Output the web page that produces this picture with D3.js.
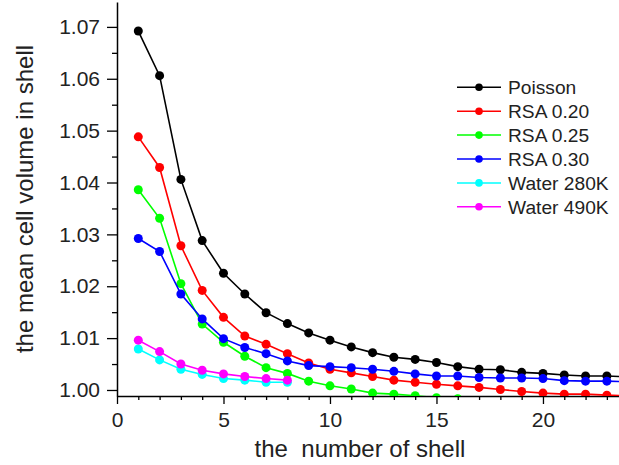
<!DOCTYPE html>
<html><head><meta charset="utf-8">
<script src="https://cdn.jsdelivr.net/npm/d3@7"></script>
<style>
html,body{margin:0;padding:0;background:#fff;}
text{font-family:"Liberation Sans",Arial,sans-serif;fill:#222;}
</style></head>
<body><div id="chart"></div>
<script>
const shells = d3.range(1, 25);
const poisson = [1.0692,1.0606,1.0406,1.0288,1.0225,1.0185,1.0149,1.0128,1.0110,1.0096,1.0083,1.0072,1.0063,1.0059,1.0053,1.0045,1.0040,1.0039,1.0034,1.0032,1.0029,1.0027,1.0027,1.0025];
const rsa020 = [1.0488,1.0429,1.0278,1.0192,1.0140,1.0104,1.0088,1.0070,1.0052,1.0040,1.0033,1.0026,1.0019,1.0015,1.0011,1.0008,1.0005,1.0001,0.9997,0.9994,0.9992,0.9992,0.9990,0.9989];
const rsa025 = [1.0386,1.0331,1.0205,1.0127,1.0092,1.0065,1.0043,1.0032,1.0017,1.0008,1.0002,0.9994,0.9992,0.9989,0.9985,0.9983];
const rsa030 = [1.0292,1.0267,1.0185,1.0137,1.0099,1.0082,1.0070,1.0056,1.0047,1.0045,1.0043,1.0040,1.0036,1.0031,1.0027,1.0027,1.0024,1.0023,1.0023,1.0022,1.0018,1.0017,1.0017,1.0016];
const water280 = [1.0079,1.0058,1.0040,1.0030,1.0022,1.0019,1.0015,1.0015];
const water490 = [1.0096,1.0074,1.0050,1.0038,1.0031,1.0026,1.0022,1.0019];
const seriesNames = ["Poisson","RSA 0.20","RSA 0.25","RSA 0.30","Water 280K","Water 490K"];
const seriesColors = ["#000000","#ff0000","#00ff00","#0000ff","#00ffff","#ff00ff"];
const seriesValues = [poisson, rsa020, rsa025, rsa030, water280, water490];
const yTicks = [1.00,1.01,1.02,1.03,1.04,1.05,1.06,1.07];
const xTicks = [0,5,10,15,20];

const W = 619, H = 465;
const x0 = 117, x1 = 619, yTop = 2, yBot = 396;
const svg = d3.select("#chart").append("svg").attr("width", W).attr("height", H);

const x = d3.scaleLinear().domain([0, 23.57]).range([x0, x1]);
const y = d3.scaleLinear().domain([0.99884, 1.0748]).range([yBot, yTop]);

svg.append("clipPath").attr("id","clip").append("rect")
  .attr("x", x0).attr("y", 0).attr("width", x1 - x0).attr("height", yBot);

// minor ticks
const minorY = d3.range(1.000, 1.0746, 0.005).filter(v => Math.abs(Math.round(v*100) - v*100) > 0.1);
svg.append("g").attr("transform", `translate(${x0},0)`)
  .call(d3.axisLeft(y).tickValues(minorY).tickSize(5).tickFormat(""))
  .call(g => g.select(".domain").remove())
  .call(g => g.selectAll("line").attr("stroke","#000").attr("stroke-width",1.3));
const minorX = d3.range(1, 24).filter(v => v % 5 !== 0);
svg.append("g").attr("transform", `translate(0,${yBot})`)
  .call(d3.axisBottom(x).tickValues(minorX).tickSize(4).tickFormat(""))
  .call(g => g.select(".domain").remove())
  .call(g => g.selectAll("line").attr("stroke","#000").attr("stroke-width",1.3));

// major axes
const yAxis = svg.append("g").attr("transform", `translate(${x0},0)`)
  .call(d3.axisLeft(y).tickValues(yTicks).tickSize(10).tickPadding(7).tickFormat(d3.format(".2f")).tickSizeOuter(0));
yAxis.selectAll("text").attr("font-size", 21).attr("font-family","Liberation Sans, Arial, sans-serif").attr("fill","#222");
yAxis.selectAll("line").attr("stroke","#000").attr("stroke-width",1.3);
yAxis.select(".domain").attr("stroke","#000").attr("stroke-width",1.5);

const xAxis = svg.append("g").attr("transform", `translate(0,${yBot})`)
  .call(d3.axisBottom(x).tickValues(xTicks).tickSize(8).tickPadding(8).tickFormat(d3.format("d")).tickSizeOuter(0));
xAxis.selectAll("text").attr("font-size", 21).attr("font-family","Liberation Sans, Arial, sans-serif").attr("fill","#222");
xAxis.selectAll("line").attr("stroke","#000").attr("stroke-width",1.3);
xAxis.select(".domain").attr("stroke","#000").attr("stroke-width",1.5);

// data
const plot = svg.append("g").attr("clip-path","url(#clip)");
const line = d3.line().x(d => x(d[0])).y(d => y(d[1]));
seriesValues.forEach((vals, i) => {
  const pts = vals.map((v, j) => [shells[j], v]);
  const g = plot.append("g");
  g.append("path").datum(pts).attr("d", line).attr("fill","none")
    .attr("stroke", seriesColors[i]).attr("stroke-width", 1.6);
  g.selectAll("circle").data(pts).join("circle")
    .attr("cx", d => x(d[0])).attr("cy", d => y(d[1])).attr("r", 4.5)
    .attr("fill", seriesColors[i]);
});

// titles
svg.append("text").attr("x", 360).attr("y", 457).attr("text-anchor","middle")
  .attr("font-size", 24).attr("fill","#111").style("white-space","pre").text("the  number of shell");
svg.append("text").attr("transform", "translate(33,199) rotate(-90)").attr("text-anchor","middle")
  .attr("font-size", 24).attr("fill","#111").text("the mean cell volume in shell");

// legend
const leg = svg.append("g");
seriesNames.forEach((n, i) => {
  const cy = 87.3 + 23.9 * i;
  leg.append("line").attr("x1", 457).attr("x2", 501).attr("y1", cy).attr("y2", cy)
    .attr("stroke", seriesColors[i]).attr("stroke-width", 1.5);
  leg.append("circle").attr("cx", 479).attr("cy", cy).attr("r", 3.8).attr("fill", seriesColors[i]);
  leg.append("text").attr("x", 508).attr("y", cy).attr("dy", "0.36em")
    .attr("font-size", 19.2).attr("fill","#111").text(n);
});
</script></body></html>
